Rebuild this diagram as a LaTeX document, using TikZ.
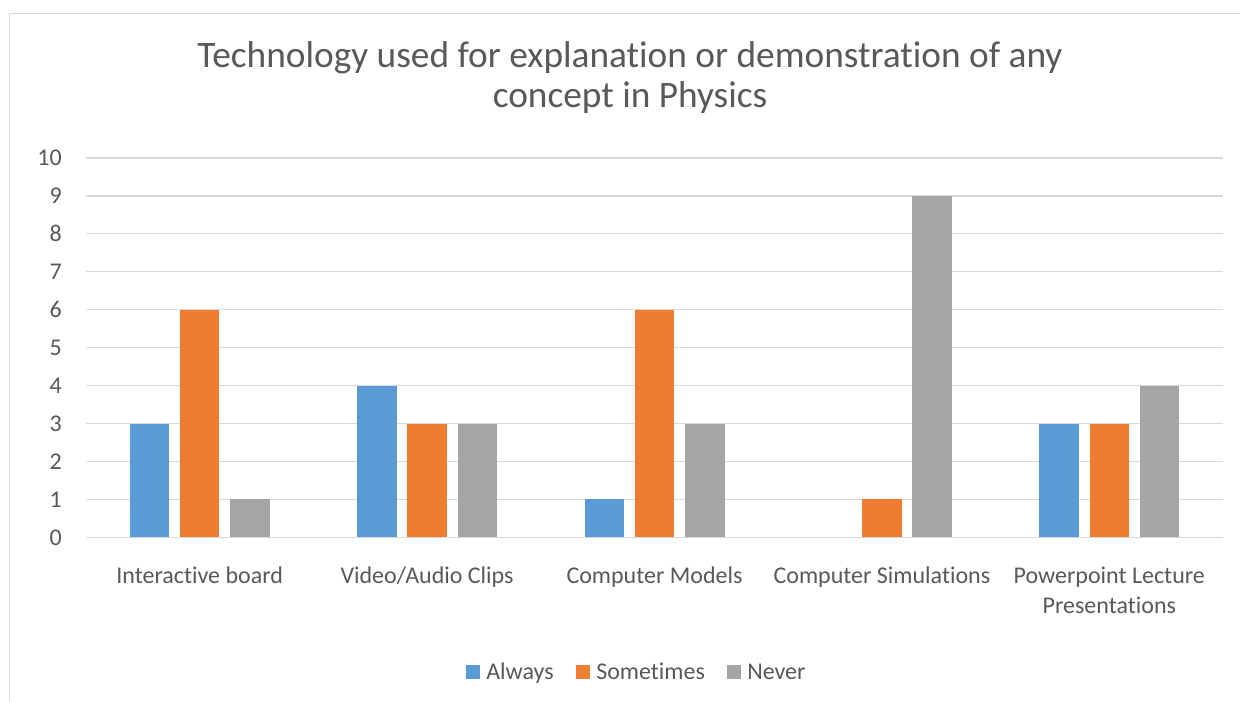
\documentclass[tikz,border=0pt]{standalone}
\usepackage{fontspec}
\setmainfont[Ligatures=NoCommon]{Carlito}
\usetikzlibrary{positioning}

\definecolor{alwaysblue}{HTML}{5B9BD5}
\definecolor{sometimesorange}{HTML}{ED7D31}
\definecolor{nevergray}{HTML}{A5A5A5}
\definecolor{gridgray}{HTML}{D9D9D9}
\definecolor{labelgray}{HTML}{595959}

\begin{document}
\begin{tikzpicture}[x=0.75pt,y=-0.75pt,
    gridline/.style={gridgray,line width=0.9pt},
    ticklabel/.style={anchor=east,inner sep=0pt,text=labelgray,font=\fontsize{18}{21}\selectfont},
    catlabel/.style={anchor=base,inner sep=0pt,text=labelgray,align=center,font=\fontsize{18}{22.5}\selectfont},
    legendtext/.style={anchor=base west,inner sep=0pt,text=labelgray,font=\fontsize{18}{21}\selectfont}]

    % Page and outer frame
    \useasboundingbox (0,0) rectangle (1240,702);
    \fill[white] (0,0) rectangle (1240,702);
    \draw[gridgray,line width=1.1pt] (9.5,702) -- (9.5,13.5) -- (1240,13.5);

    % Title (base anchor = baseline of the last line)
    \node[inner sep=0pt,anchor=base,text=labelgray,align=center,
          font=\fontsize{28}{30}\selectfont] (title) at (630,108)
          {Technology used for explanation or demonstration of any\\concept in Physics};

    % Gridlines and tick labels
    \foreach \v in {0,...,10} {
        \draw[gridline] (86,537.3-37.93*\v) coordinate (g\v) -- (1223,537.3-37.93*\v);
        \node[ticklabel] (tick\v) at (62,537.3-37.93*\v) {\v};
    }

    % Bars: category, always, sometimes, never
    \foreach \i/\a/\s/\n/\name/\ly in {0/3/6/1/{Interactive board}/583.5,
                                        1/4/3/3/{Video/Audio Clips}/583.5,
                                        2/1/6/3/{Computer Models}/583.5,
                                        3/0/1/9/{Computer Simulations}/583.5,
                                        4/3/3/4/{Powerpoint Lecture\\Presentations}/613.5} {
        \pgfmathsetmacro{\cx}{199.7+227.4*\i}
        \ifnum\a>0
            \fill[alwaysblue] (\cx-70,537.3) rectangle (\cx-30.5,537.3-37.93*\a);
        \fi
        \fill[sometimesorange] (\cx-19.75,537.3) rectangle (\cx+19.75,537.3-37.93*\s);
        \fill[nevergray] (\cx+30.5,537.3) rectangle (\cx+70,537.3-37.93*\n);
        \node[catlabel] (cat\i) at (\cx,\ly) {\name};
    }

    % Legend
    \fill[alwaysblue] (466,665) rectangle (480,679);
    \node[legendtext] (always) at (486,679) {Always};
    \fill[sometimesorange] (576,665) rectangle (590,679);
    \node[legendtext] (sometimes) at (596,679) {Sometimes};
    \fill[nevergray] (727,665) rectangle (741,679);
    \node[legendtext] (never) at (747,679) {Never};

\end{tikzpicture}
\end{document}
